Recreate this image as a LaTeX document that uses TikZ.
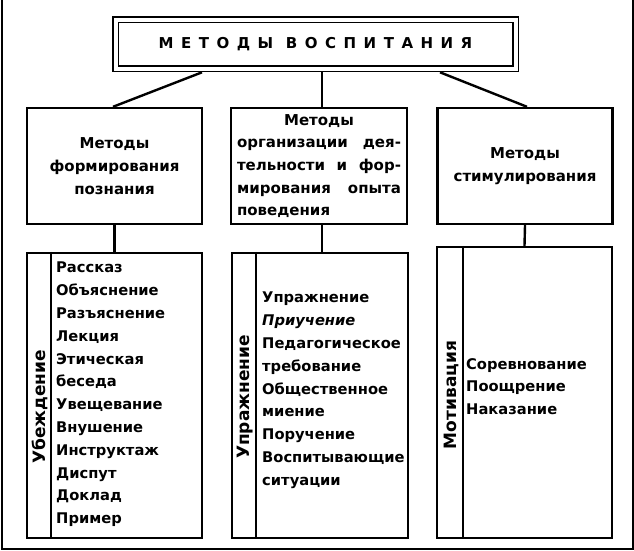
\documentclass[tikz,border=0pt]{standalone}
\usepackage{fontspec}
\setmainfont{DejaVu Sans}
\newfontfamily\spaced[LetterSpace=50]{DejaVu Sans}
\begin{document}
\begin{tikzpicture}[x=1pt,y=-1pt,
        box/.style = {draw, line width=2.4pt, inner sep=0pt},
        head/.style = {box, minimum width=175pt, minimum height=116pt, align=center, font=\bfseries\fontsize{15}{22.7}\selectfont},
        list/.style = {anchor=north west, inner sep=0pt, align=left, font=\bfseries\fontsize{14.7}{22.8}\selectfont},
        side/.style = {rotate=90, inner sep=0pt, font=\bfseries\fontsize{17}{20}\selectfont}]
        \useasboundingbox (0,0) rectangle (634,550);
        \draw[line width=2.4pt] (2,0) -- (2,549) -- (633,549) -- (633,0);
        \node[draw, double, line width=1.8pt, double distance=4pt, outer sep=3.8pt, minimum width=400pt, minimum height=49pt, font=\spaced\bfseries\fontsize{15}{17}\selectfont] (title) at (315.5,44) {МЕТОДЫ ВОСПИТАНИЯ};
        \node[head] (form) at (114.5,166) {Методы\\формирования\\познания};
        \node[head, minimum width=176pt] (org) at (319,166) {Методы\\\makebox[164pt][s]{организации дея-}\\\makebox[164pt][s]{тельности и фор-}\\\makebox[164pt][s]{мирования опыта}\\\makebox[164pt][l]{поведения}};
        \node[head] (stim) at (525,166) {Методы\\стимулирования};
        \node[box, minimum width=175pt, minimum height=285pt] (ubox) at (114.5,395.5) {};
        \node[box, minimum width=176pt, minimum height=285pt] (upbox) at (320,395.5) {};
        \node[box, minimum width=175pt, minimum height=291pt] (motbox) at (524.5,392.5) {};
        \draw[line width=2.4pt] ([xshift=25pt]ubox.north west) -- ([xshift=25pt]ubox.south west);
        \draw[line width=2.4pt] ([xshift=25pt]upbox.north west) -- ([xshift=25pt]upbox.south west);
        \draw[line width=2.4pt] ([xshift=27pt]motbox.north west) -- ([xshift=27pt]motbox.south west);
        \node[side] (ulab) at (40,407) {Убеждение};
        \node[side] (uplab) at (245,397) {Упражнение};
        \node[side] (motlab) at (451,395) {Мотивация};
        \node[list] (ulist) at (56,262) {Рассказ\\Объяснение\\Разъяснение\\Лекция\\Этическая\\беседа\\Увещевание\\Внушение\\Инструктаж\\Диспут\\Доклад\\Пример};
        \node[list] (uplist) at (262,292) {Упражнение\\\textit{Приучение}\\Педагогическое\\требование\\Общественное\\миение\\Поручение\\Воспитывающие\\ситуации};
        \node[list] (motlist) at (466,358) {Соревнование\\Поощрение\\Наказание};
        \draw[line width=2.4pt] ([xshift=-113.5pt]title.south) -- ([xshift=-1.5pt]form.north);
        \draw[line width=2.4pt] ([xshift=6.5pt]title.south) -- ([xshift=3pt]org.north);
        \draw[line width=2.4pt] ([xshift=124.5pt]title.south) -- ([xshift=2pt]stim.north);
        \draw[line width=2.4pt] (form.south) -- (ubox.north);
        \draw[line width=2.4pt] ([xshift=3pt]org.south) -- ([xshift=2pt]upbox.north);
        \draw[line width=2.4pt] (stim.south) -- (motbox.north);
        \end{tikzpicture}
\end{document}
